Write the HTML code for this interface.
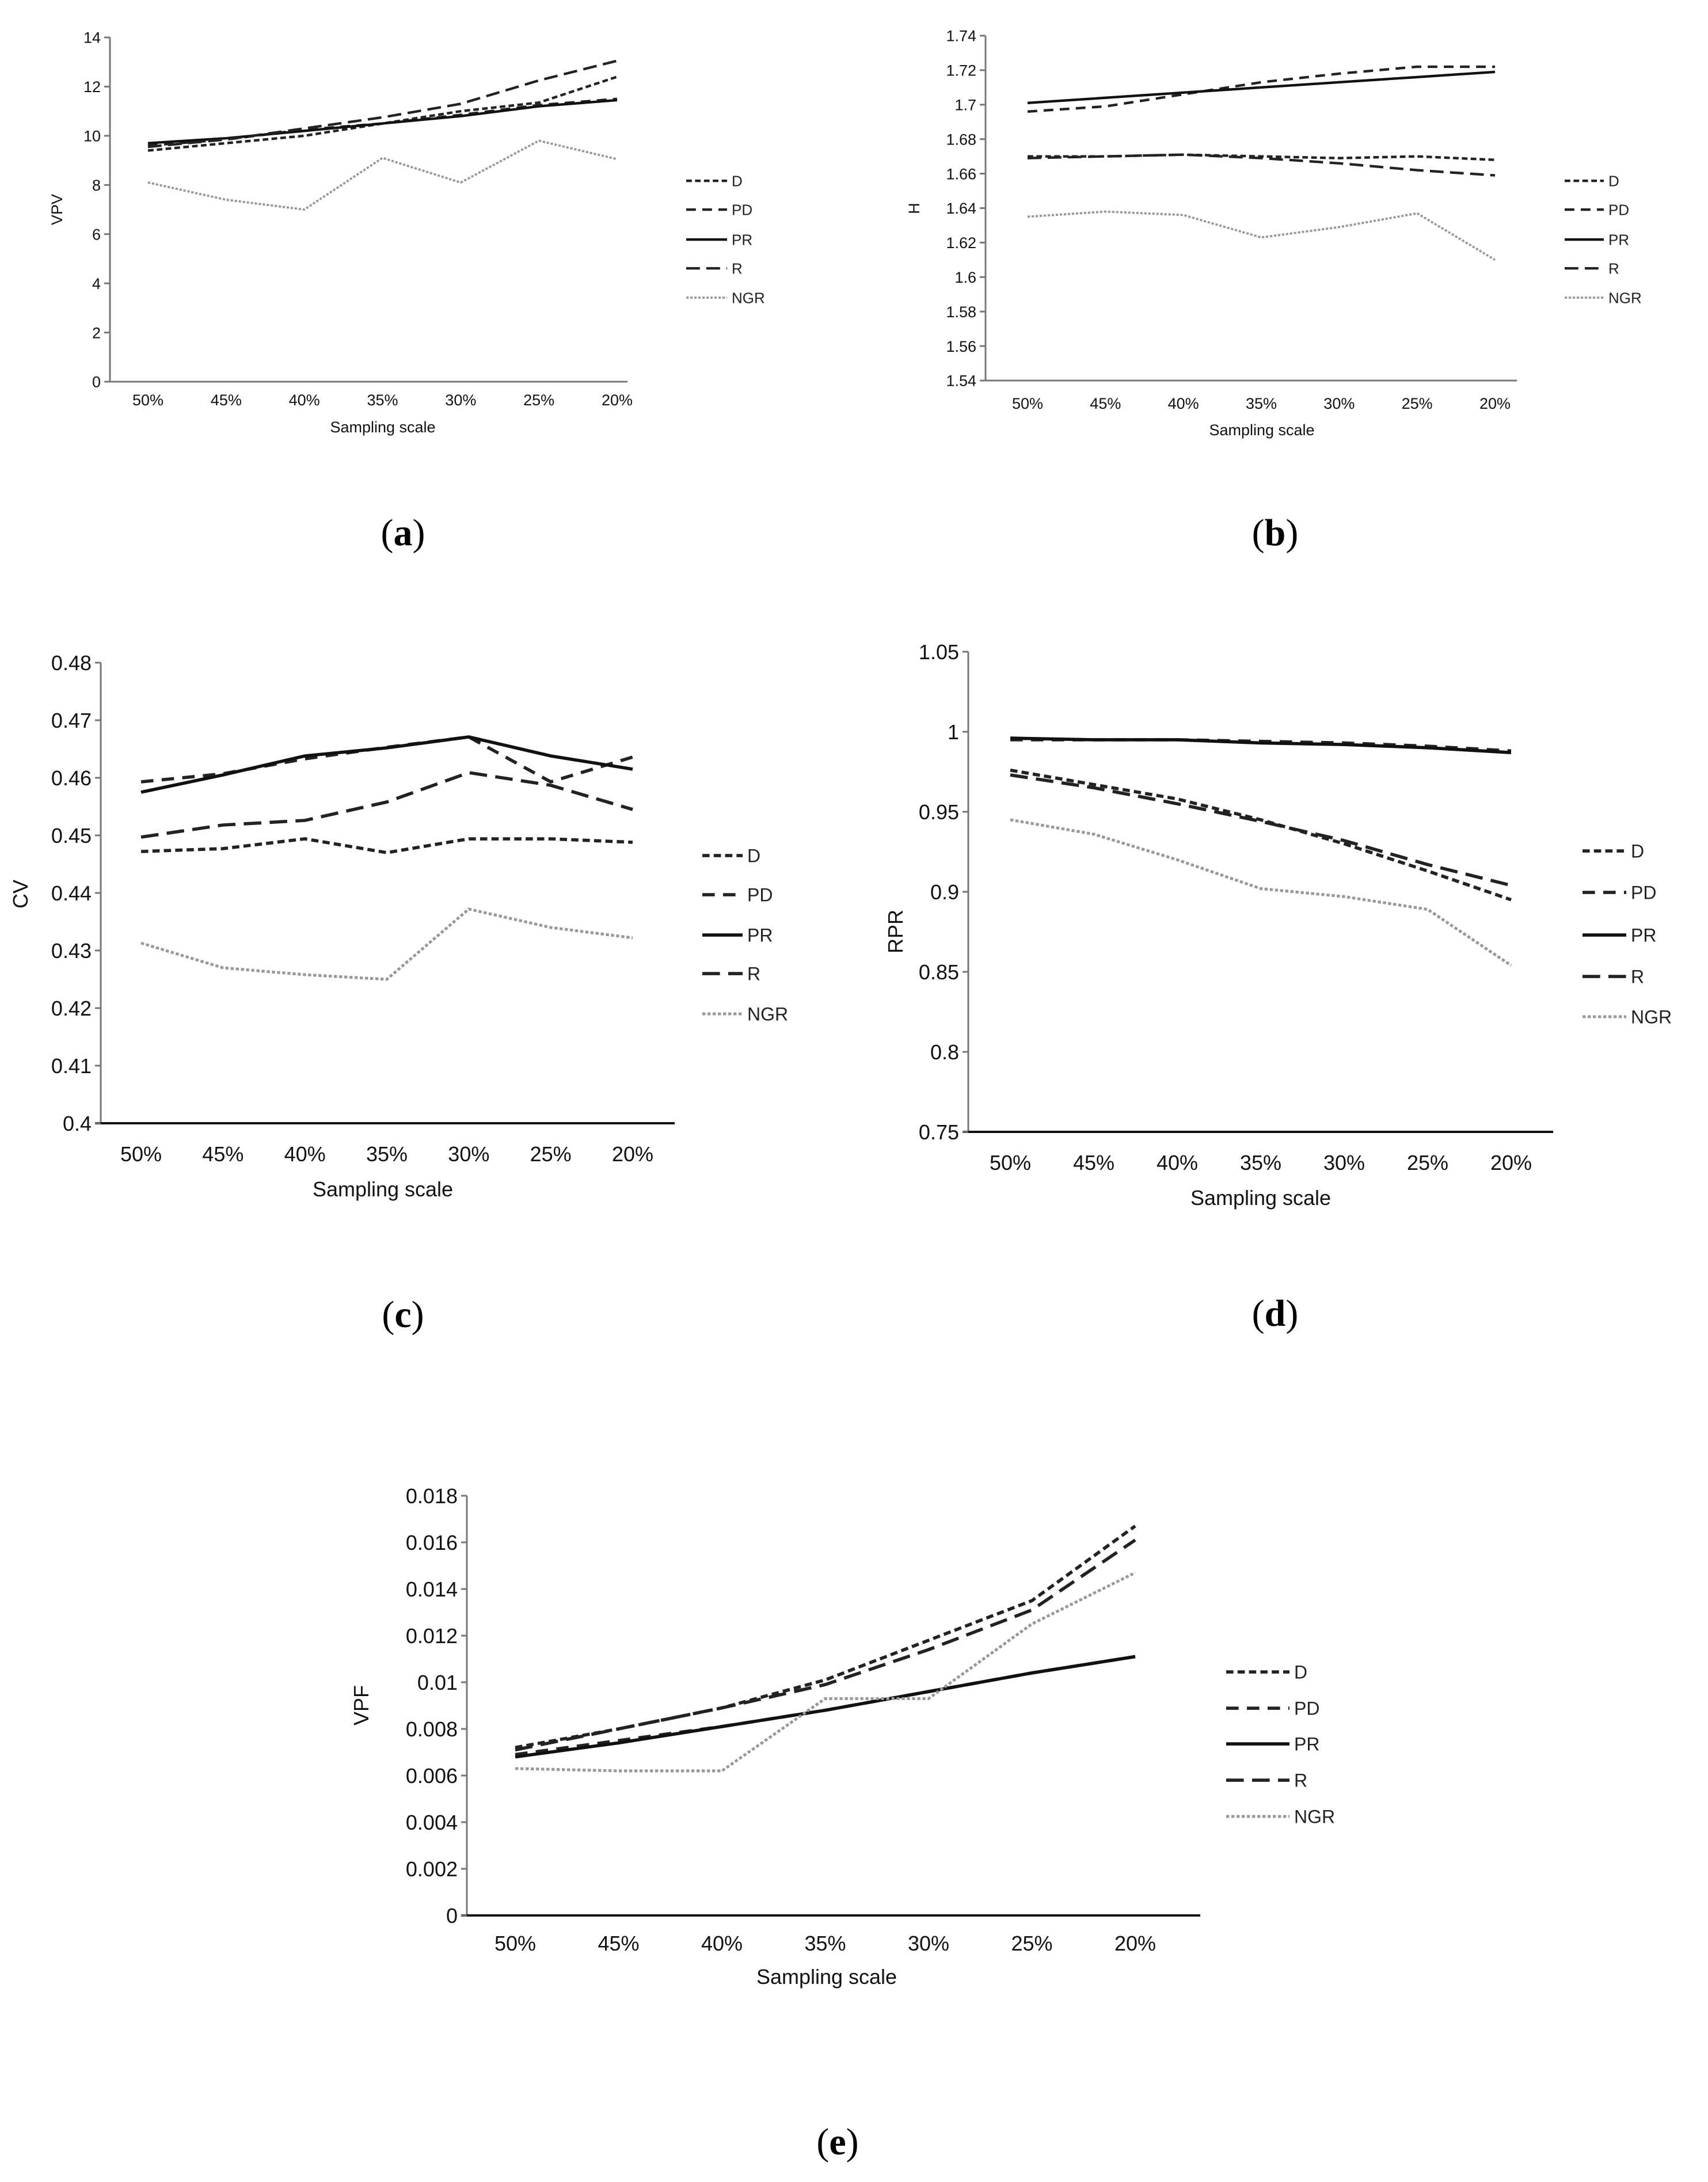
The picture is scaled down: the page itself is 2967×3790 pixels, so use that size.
<!DOCTYPE html>
<html><head><meta charset="utf-8"><style>
html,body{margin:0;padding:0;background:#fff;}
svg{display:block;font-family:"Liberation Sans",sans-serif;}
</style></head><body>
<svg id="fig" width="2967" height="3790" viewBox="0 0 2967 3790" xmlns="http://www.w3.org/2000/svg"></svg>
<script>
const categories = ["50%","45%","40%","35%","30%","25%","20%"];
const seriesNames = ["D","PD","PR","R","NGR"];

const aD   = [9.4,9.7,10.0,10.5,11.0,11.35,12.4];
const aPD  = [9.6,9.85,10.25,10.5,10.85,11.25,11.5];
const aPR  = [9.7,9.9,10.2,10.5,10.8,11.2,11.45];
const aR   = [9.55,9.85,10.3,10.75,11.3,12.25,13.05];
const aNGR = [8.1,7.4,7.0,9.1,8.1,9.8,9.05];
const aTicks = ["0","2","4","6","8","10","12","14"];

const bD   = [1.670,1.670,1.671,1.670,1.669,1.670,1.668];
const bPD  = [1.696,1.699,1.706,1.713,1.718,1.722,1.722];
const bPR  = [1.701,1.704,1.707,1.710,1.713,1.716,1.719];
const bR   = [1.669,1.670,1.671,1.669,1.666,1.662,1.659];
const bNGR = [1.635,1.638,1.636,1.623,1.629,1.637,1.610];
const bTicks = ["1.54","1.56","1.58","1.6","1.62","1.64","1.66","1.68","1.7","1.72","1.74"];

const cD   = [0.4472,0.4477,0.4494,0.4470,0.4494,0.4494,0.4488];
const cPD  = [0.4593,0.4607,0.4633,0.4653,0.4671,0.4593,0.4636];
const cPR  = [0.4575,0.4605,0.4638,0.4652,0.4671,0.4638,0.4615];
const cR   = [0.4497,0.4518,0.4526,0.4558,0.4609,0.4587,0.4545];
const cNGR = [0.4313,0.4270,0.4258,0.4250,0.4372,0.4340,0.4322];
const cTicks = ["0.4","0.41","0.42","0.43","0.44","0.45","0.46","0.47","0.48"];

const dD   = [0.976,0.967,0.958,0.945,0.930,0.913,0.895];
const dPD  = [0.995,0.995,0.995,0.994,0.993,0.991,0.988];
const dPR  = [0.996,0.995,0.995,0.993,0.992,0.990,0.987];
const dR   = [0.973,0.965,0.955,0.944,0.932,0.917,0.904];
const dNGR = [0.945,0.936,0.920,0.902,0.897,0.889,0.854];
const dTicks = ["0.75","0.8","0.85","0.9","0.95","1","1.05"];

const eD   = [0.0072,0.0080,0.0089,0.0101,0.0118,0.0135,0.0167];
const ePD  = [0.0069,0.0075,0.0081,0.0088,0.0096,0.0104,0.0111];
const ePR  = [0.0068,0.0074,0.0081,0.0088,0.0096,0.0104,0.0111];
const eR   = [0.0071,0.0080,0.0089,0.0099,0.0114,0.0131,0.0161];
const eNGR = [0.0063,0.0062,0.0062,0.0093,0.0093,0.0125,0.0147];
const eTicks = ["0","0.002","0.004","0.006","0.008","0.01","0.012","0.014","0.016","0.018"];

const NS="http://www.w3.org/2000/svg";
const svg=document.getElementById("fig");
function mk(tag,attrs,parent){const e=document.createElementNS(NS,tag);for(const k in attrs)e.setAttribute(k,attrs[k]);(parent||svg).appendChild(e);return e;}

const styles=[
 {dash:"7,4",color:"#222",w:1.25},
 {dash:"12,8",color:"#222",w:1.25},
 {dash:"",color:"#111",w:1.25},
 {dash:"17,8",color:"#222",w:1.25},
 {dash:"3,2",color:"#999",w:1.1}
];

function chart(id,cfg,series,ticks){
  const g=mk("g",{});
  
  
  const vmin=parseFloat(ticks[0]),vmax=parseFloat(ticks[ticks.length-1]);
  const yS=v=>cfg.y0-(v-vmin)/(vmax-vmin)*(cfg.y0-cfg.y1);
  const xS=i=>cfg.c0+i*(cfg.c1-cfg.c0)/(categories.length-1);
  const ax=mk("line",{x1:cfg.ax,y1:cfg.y1,x2:cfg.ax,y2:cfg.y0,stroke:"#777","stroke-width":3},g);
  
  
  const bx=mk("line",{x1:cfg.ax-10,y1:cfg.y0,x2:cfg.xr,y2:cfg.y0,stroke:cfg.xaxisColor||"#777","stroke-width":cfg.xaxisW||3},g);
  
  
  ticks.forEach(t=>{
    const y=yS(parseFloat(t));
    mk("line",{x1:cfg.ax-10,y1:y,x2:cfg.ax,y2:y,stroke:"#777","stroke-width":3},g);
    const tx=mk("text",{x:cfg.ax-16,y:y+cfg.fs*0.36,"font-size":cfg.fs,"text-anchor":"end",fill:"#111"},g);
    tx.textContent=t;
    
    
  });
  categories.forEach((c,i)=>{
    const tx=mk("text",{x:xS(i),y:cfg.ly,"font-size":cfg.fs,"text-anchor":"middle",fill:"#111"},g);
    tx.textContent=c;
    
    
  });
  const xt=mk("text",{x:cfg.xtx,y:cfg.xty,"font-size":cfg.fs,"text-anchor":"middle",fill:"#111"},g);
  xt.textContent="Sampling scale";
  
  
  const yt=mk("text",{x:cfg.ytx,y:cfg.yty,"font-size":cfg.fs,"text-anchor":"middle",fill:"#111",transform:`rotate(-90 ${cfg.ytx} ${cfg.yty})`},g);
  yt.textContent=cfg.ylabel;
  
  
  series.forEach((vals,s)=>{
    const st=styles[s];
    const p=mk("polyline",{points:vals.map((v,i)=>xS(i)+","+yS(v)).join(" "),fill:"none",stroke:st.color,"stroke-width":st.w*cfg.lw,"stroke-dasharray":st.dash?st.dash.split(",").map(n=>n*cfg.lw/2.5).join(","):"none"},g);
    
    
    const ly=cfg.legY[s];
    const ll=mk("line",{x1:cfg.legX0,y1:ly,x2:cfg.legX1,y2:ly,stroke:st.color,"stroke-width":st.w*cfg.lw,"stroke-dasharray":st.dash?st.dash.split(",").map(n=>n*cfg.lw/2.5).join(","):"none"},g);
    
    
    const lt=mk("text",{x:cfg.legX1+8,y:ly+cfg.lfs*0.36,"font-size":cfg.lfs,fill:"#222"},g);
    lt.textContent=seriesNames[s];
    
    
  });
  const cap=mk("text",{x:cfg.capx,y:cfg.capy,"font-size":66,"text-anchor":"middle",fill:"#000","font-family":"Liberation Serif, serif"},g);
  cap.innerHTML='(<tspan font-weight="bold">'+id+'</tspan>)';
  
  
}

chart("a",{ax:191,y1:65,y0:663,xr:1090,c0:257,c1:1072,fs:27,lfs:26,lw:3.5,ly:704,xtx:665,xty:751,ytx:108,yty:364,ylabel:"VPV",
  legX0:1192,legX1:1263,legY:[314,364,416,466,517],capx:700,capy:947},[aD,aPD,aPR,aR,aNGR],aTicks);
chart("b",{ax:1712,y1:62,y0:661,xr:2635,c0:1785,c1:2597,fs:27,lfs:26,lw:3.5,ly:710,xtx:2192,xty:756,ytx:1597,yty:362,ylabel:"H",
  legX0:2718,legX1:2786,legY:[314,364,416,466,517],capx:2215,capy:947},[bD,bPD,bPR,bR,bNGR],bTicks);
chart("c",{ax:175,y1:1151,y0:1951,xr:1172,c0:245,c1:1099,fs:36,lfs:32,lw:4.5,ly:2017,xtx:665,xty:2078,ytx:48,yty:1553,ylabel:"CV",xaxisColor:"#111",xaxisW:4,
  legX0:1220,legX1:1290,legY:[1486,1554,1624,1691,1761],capx:700,capy:2305},[cD,cPD,cPR,cR,cNGR],cTicks);
chart("d",{ax:1682,y1:1132,y0:1966,xr:2698,c0:1755,c1:2625,fs:36,lfs:32,lw:4.5,ly:2032,xtx:2190,xty:2093,ytx:1568,yty:1618,ylabel:"RPR",xaxisColor:"#111",xaxisW:4,
  legX0:2749,legX1:2825,legY:[1478,1550,1624,1696,1766],capx:2215,capy:2303},[dD,dPD,dPR,dR,dNGR],dTicks);
chart("e",{ax:811,y1:2598,y0:3327,xr:2085,c0:895,c1:1972,fs:36,lfs:32,lw:4.5,ly:3388,xtx:1436,xty:3446,ytx:640,yty:2962,ylabel:"VPF",xaxisColor:"#111",xaxisW:4,
  legX0:2130,legX1:2240,legY:[2904,2967,3029,3092,3155],capx:1455,capy:3742},[eD,ePD,ePR,eR,eNGR],eTicks);
</script>
</body></html>
